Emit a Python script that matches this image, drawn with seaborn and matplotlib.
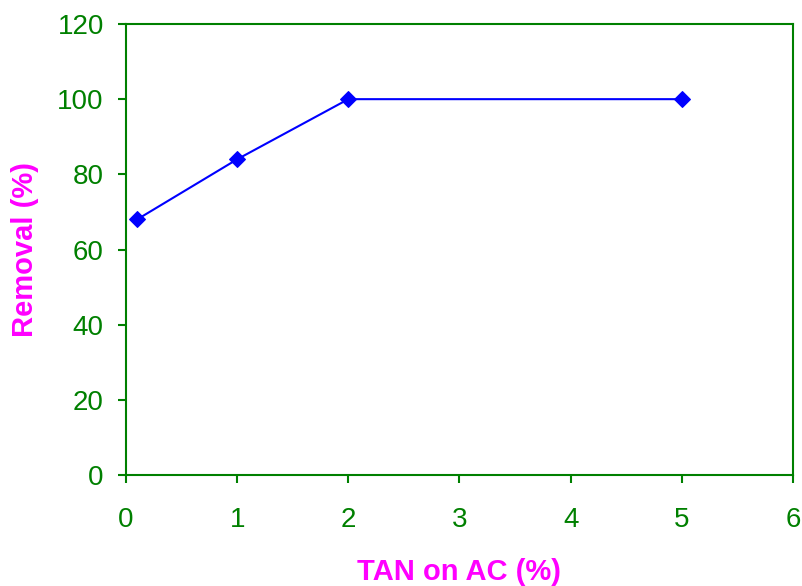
import matplotlib
matplotlib.use("Agg")
import matplotlib.pyplot as plt
import seaborn as sns
import pandas as pd

tan_on_ac = [0.1, 1, 2, 5]
removal = [68, 84, 100, 100]
x_ticks = [0, 1, 2, 3, 4, 5, 6]
y_ticks = [0, 20, 40, 60, 80, 100, 120]

sns.set_style("white")
plt.rcParams['font.family'] = ['Liberation Sans', 'DejaVu Sans']

green = "#008000"
magenta = "#FF00FF"

df = pd.DataFrame({"x": tan_on_ac, "y": removal})

fig = plt.figure(figsize=(8.03, 5.86), dpi=100)
ax = fig.add_axes([126/803, 1-475/586, (793-126)/803, (475-24)/586])

sns.lineplot(data=df, x="x", y="y", ax=ax, color="#0000FF", linewidth=1.5,
             marker="D", markersize=8, markeredgecolor="#0000FF", estimator=None, sort=False)

ax.set_xlim(0, 6)
ax.set_ylim(0, 120)
ax.set_xticks(x_ticks)
ax.set_yticks(y_ticks)
ax.set_xticklabels([str(v) for v in x_ticks])
ax.set_yticklabels([str(v) for v in y_ticks])

for s in ax.spines.values():
    s.set_visible(True)
    s.set_color(green)
    s.set_linewidth(1.5)

ax.tick_params(axis="both", which="major", direction="out", length=6, width=1.5,
               color=green, labelcolor=green, labelsize=20)
ax.tick_params(axis="x", bottom=True, pad=17)
ax.tick_params(axis="y", left=True, pad=10)

ax.set_xlabel("TAN on AC (%)", color=magenta, fontsize=21, fontweight="bold", labelpad=18)
ax.set_ylabel("Removal (%)", color=magenta, fontsize=21, fontweight="bold", labelpad=13)
ax.grid(False)

fig.savefig("out.png", dpi=100)
